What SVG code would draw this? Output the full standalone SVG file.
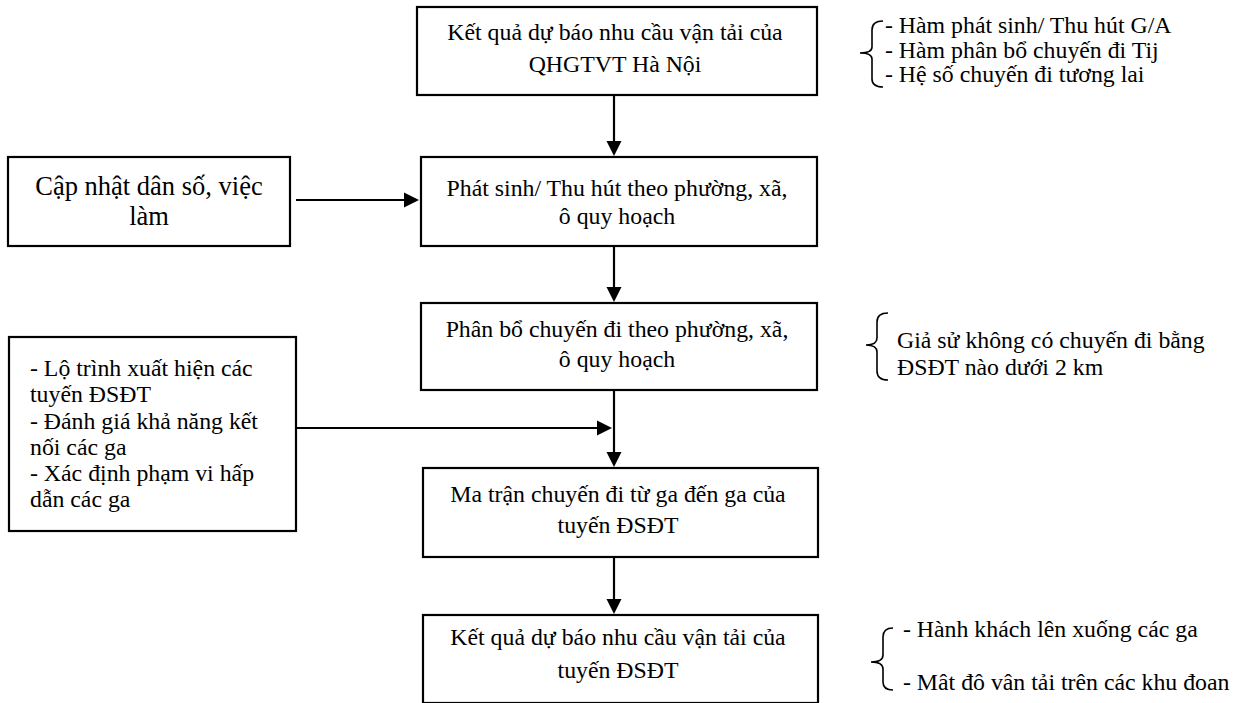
<svg xmlns="http://www.w3.org/2000/svg" width="1239" height="703" viewBox="0 0 1239 703">
<defs>
<style>
.box{fill:#fff;stroke:#000;stroke-width:2.2}
.t{font-family:"Liberation Serif","Times New Roman",serif;font-size:23.8px;fill:#000}
.c{text-anchor:middle}
.big{font-size:26.5px}
.ln{stroke:#000;stroke-width:2.2;fill:none}
.br{stroke:#000;stroke-width:1.6;fill:none}
</style>
</defs>
<rect width="1239" height="703" fill="#fff"/>
<g id="connectors">
<line class="ln" x1="614" y1="95" x2="614" y2="142"/><path d="M606.5,141 L621.5,141 L614,156 Z"/>
<line class="ln" x1="614" y1="246" x2="614" y2="288"/><path d="M606.5,287 L621.5,287 L614,302 Z"/>
<line class="ln" x1="614" y1="390" x2="614" y2="453"/><path d="M606.5,452 L621.5,452 L614,467 Z"/>
<line class="ln" x1="614" y1="557" x2="614" y2="600"/><path d="M606.5,599 L621.5,599 L614,614 Z"/>
<line class="ln" x1="296" y1="200" x2="405" y2="200"/><path d="M404,192.5 L404,207.5 L419,200 Z"/>
<line class="ln" x1="296" y1="428" x2="598" y2="428"/><path d="M597,420.5 L597,435.5 L612,428 Z"/>
</g>
<g id="n1">
<rect class="box" x="417" y="7" width="400" height="88"/>
<text class="t c" x="615" y="40">Kết quả dự báo nhu cầu vận tải của</text>
<text class="t c" x="615" y="72">QHGTVT Hà Nội</text>
</g>
<g id="n2">
<rect class="box" x="421" y="157" width="396" height="89"/>
<text class="t c" x="617" y="196">Phát sinh/ Thu hút theo phường, xã,</text>
<text class="t c" x="617" y="224">ô quy hoạch</text>
</g>
<g id="n3">
<rect class="box" x="421" y="303" width="396" height="87"/>
<text class="t c" x="617" y="337">Phân bổ chuyến đi theo phường, xã,</text>
<text class="t c" x="617" y="367">ô quy hoạch</text>
</g>
<g id="n4">
<rect class="box" x="423" y="468" width="395" height="89"/>
<text class="t c" x="618" y="502">Ma trận chuyến đi từ ga đến ga của</text>
<text class="t c" x="618" y="533">tuyến ĐSĐT</text>
</g>
<g id="n5">
<rect class="box" x="423" y="615" width="395" height="88"/>
<text class="t c" x="618" y="645">Kết quả dự báo nhu cầu vận tải của</text>
<text class="t c" x="618" y="678">tuyến ĐSĐT</text>
</g>
<g id="n6">
<rect class="box" x="8" y="157" width="282" height="89"/>
<text class="t c big" x="149" y="195">Cập nhật dân số, việc</text>
<text class="t c big" x="149" y="225">làm</text>
</g>
<g id="n7">
<rect class="box" x="9" y="337" width="287" height="194"/>
<text class="t" x="30" y="376">- Lộ trình xuất hiện các</text>
<text class="t" x="30" y="402">tuyến ĐSĐT</text>
<text class="t" x="30" y="429">- Đánh giá khả năng kết</text>
<text class="t" x="30" y="455">nối các ga</text>
<text class="t" x="30" y="481">- Xác định phạm vi hấp</text>
<text class="t" x="30" y="507">dẫn các ga</text>
</g>
<g id="a1">
<path class="br" d="M883,21 Q872,21 872,30 L872,47 Q872,53 860,53 Q872,53 872,59 L872,79 Q872,87 883,87"/>
<text class="t" x="885" y="33">- Hàm phát sinh/ Thu hút G/A</text>
<text class="t" x="885" y="58">- Hàm phân bổ chuyến đi Tij</text>
<text class="t" x="885" y="82">- Hệ số chuyến đi tương lai</text>
</g>
<g id="a2">
<path class="br" d="M888,313 Q877,313 877,322 L877,338 Q877,345 866,345 Q877,345 877,352 L877,371 Q877,380 888,380"/>
<text class="t" x="897" y="348">Giả sử không có chuyến đi bằng</text>
<text class="t" x="897" y="375">ĐSĐT nào dưới 2 km</text>
</g>
<g id="a3">
<path class="br" d="M893,628 Q883,628 883,637 L883,655 Q883,662 871,662 Q883,662 883,669 L883,682 Q883,690 893,690"/>
<text class="t" x="903" y="637">- Hành khách lên xuống các ga</text>
<text class="t" x="903" y="690">- Mât đô vân tải trên các khu đoan</text>
</g>
</svg>
